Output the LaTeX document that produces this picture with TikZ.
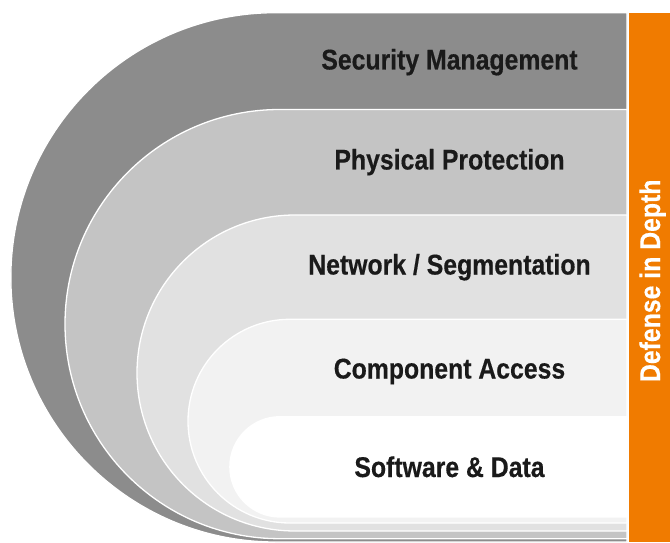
\documentclass[tikz,border=0pt]{standalone}
\usepackage{fontspec}
\setmainfont{Liberation Sans}[FakeStretch=0.87, BoldFeatures={FakeBold=0.4}]
\definecolor{lone}{HTML}{8C8C8C}
\definecolor{ltwo}{HTML}{C4C4C4}
\definecolor{lthree}{HTML}{E1E1E1}
\definecolor{lfour}{HTML}{F2F2F2}
\definecolor{lfive}{HTML}{FFFFFF}
\definecolor{dorange}{HTML}{F07B00}
\definecolor{txt}{HTML}{1A1A1A}
\begin{document}
\begin{tikzpicture}[x=1pt,y=1pt,
  layer/.style={draw=white, line width=1.3pt, line join=round},
  label/.style={font=\fontsize{28.5}{30}\selectfont\bfseries, text=txt, anchor=base, inner sep=0pt},
  side/.style={font=\fontsize{28.5}{30}\selectfont\bfseries, text=white, anchor=base, rotate=90, inner sep=0pt}]
\useasboundingbox (0,0) rectangle (670,542);
% layers (outer to inner)
\draw[layer, fill=lone]   (627,529.3) -- (275.5,529.3) arc[start angle=90, end angle=270, radius=264.65] -- (627,0) -- cycle;
\draw[layer, fill=ltwo]   (627,432.5) -- (279.6,432.5) arc[start angle=90, end angle=270, radius=214.6] -- (627,3.3) -- cycle;
\draw[layer, fill=lthree] (627,327) -- (295,327) arc[start angle=90, end angle=270, radius=158] -- (627,11) -- cycle;
\draw[layer, fill=lfour]  (627,222.7) -- (289.85,222.7) arc[start angle=90, end angle=270, radius=101.85] -- (627,19) -- cycle;
\draw[layer, fill=lfive]  (627,125.3) -- (280,125.3) arc[start angle=90, end angle=270, radius=50.15] -- (627,25) -- cycle;
% orange bar
\fill[dorange] (629,0) rectangle (670,529.3);
% labels
\node[label] (sm) at (449.5,472.5) {Security Management};
\node[label] (pp) at (449.5,372.5) {Physical Protection};
\node[label] (ns) at (449.5,267.5) {Network / Segmentation};
\node[label] (ca) at (449.5,163.5) {Component Access};
\node[label] (sd) at (449.5,65) {Software \& Data};
\node[side] (did) at (660,261.2) {Defense in Depth};
\end{tikzpicture}
\end{document}
